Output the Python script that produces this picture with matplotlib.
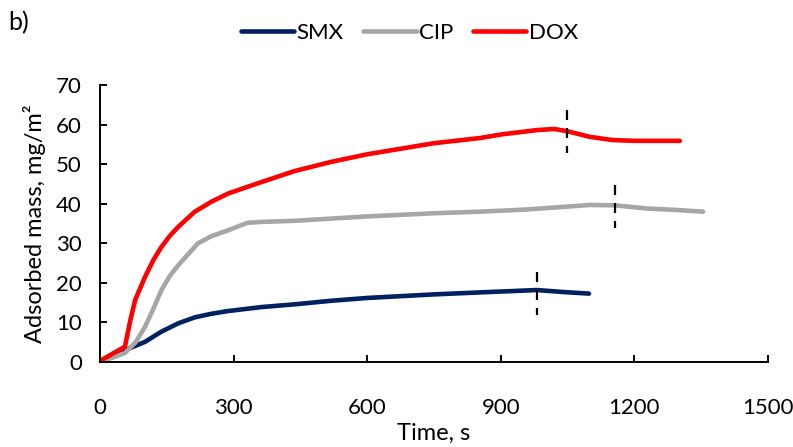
import matplotlib
matplotlib.use("Agg")
import matplotlib.pyplot as plt

plt.rcParams['font.family'] = ['Lato', 'DejaVu Sans']

# Data (time in s, adsorbed mass in mg/m2)
smx_t = [0, 30, 56, 101, 138, 176, 213, 250, 288, 363, 438, 520, 600, 750, 853, 981, 1040, 1098]
smx_y = [0, 1.5, 3.0, 5.1, 7.7, 9.8, 11.3, 12.2, 12.9, 13.9, 14.6, 15.5, 16.2, 17.1, 17.6,
         18.2, 17.7, 17.3]

cip_t = [0, 30, 56, 80, 101, 120, 138, 157, 176, 200, 220, 250, 288, 315, 332, 360, 438, 600,
         750, 853, 950, 1040, 1100, 1157, 1228, 1300, 1354]
cip_y = [0, 1.2, 2.3, 5.0, 8.9, 13.5, 18.2, 21.8, 24.5, 27.5, 30.0, 31.8, 33.3, 34.5, 35.2,
         35.4, 35.7, 36.8, 37.6, 38.0, 38.5, 39.2, 39.7, 39.6, 38.8, 38.4, 38.0]

dox_t = [0, 56, 68, 79, 101, 120, 138, 157, 176, 213, 250, 288, 363, 438, 520, 600, 750,
         853, 900, 980, 1020, 1050, 1100, 1150, 1200, 1302]
dox_y = [0.3, 3.9, 10.5, 15.7, 21.5, 25.8, 29.1, 31.9, 34.2, 38.0, 40.5, 42.6, 45.5, 48.3,
         50.6, 52.5, 55.3, 56.6, 57.5, 58.6, 58.9, 58.3, 56.9, 56.1, 55.9, 55.9]

# Vertical dashed markers: (time, y_top, y_bottom)
mark_t = [981, 1049, 1157]
mark_top = [22.7, 63.6, 44.7]
mark_bot = [11.9, 52.8, 33.8]

labels = ['SMX', 'CIP', 'DOX']
colors = ['#002060', '#A6A6A6', '#FF0000']

fig = plt.figure(figsize=(7.93, 4.47), dpi=100)
ax = fig.add_axes([0.1261, 0.190, 0.8424, 0.6198])

series = [(smx_t, smx_y), (cip_t, cip_y), (dox_t, dox_y)]
for (t, y), lab, c in zip(series, labels, colors):
    ax.plot(t, y, color=c, lw=3.3, label=lab, solid_capstyle='round',
            solid_joinstyle='round')

for t, top, bot in zip(mark_t, mark_top, mark_bot):
    ax.plot([t, t], [top, bot], color='black', lw=1.6, dashes=(4.5, 3.6))

ax.set_xlim(0, 1500)
ax.set_ylim(0, 70)
ax.set_xticks([0, 300, 600, 900, 1200, 1500])
ax.set_yticks(range(0, 71, 10))
ax.spines['top'].set_visible(False)
ax.spines['right'].set_visible(False)
for s in ['left', 'bottom']:
    ax.spines[s].set_linewidth(1.4)
ax.tick_params(direction='in', length=5, width=1.4, labelsize=16)
ax.tick_params(axis='y', pad=13)
ax.tick_params(axis='x', pad=26)

ax.set_xlabel('Time, s', fontsize=17, labelpad=3)
ax.set_ylabel('Adsorbed mass, mg/m²', fontsize=17, labelpad=7)

leg = fig.legend(loc='center', bbox_to_anchor=(0.516, 0.926), ncol=3, frameon=False,
                 fontsize=16, handlelength=2.4, handletextpad=0.1, columnspacing=0.9)

fig.text(0.010, 0.950, 'b)', fontsize=18, ha='left', va='center')

fig.savefig('out.png', dpi=100)
